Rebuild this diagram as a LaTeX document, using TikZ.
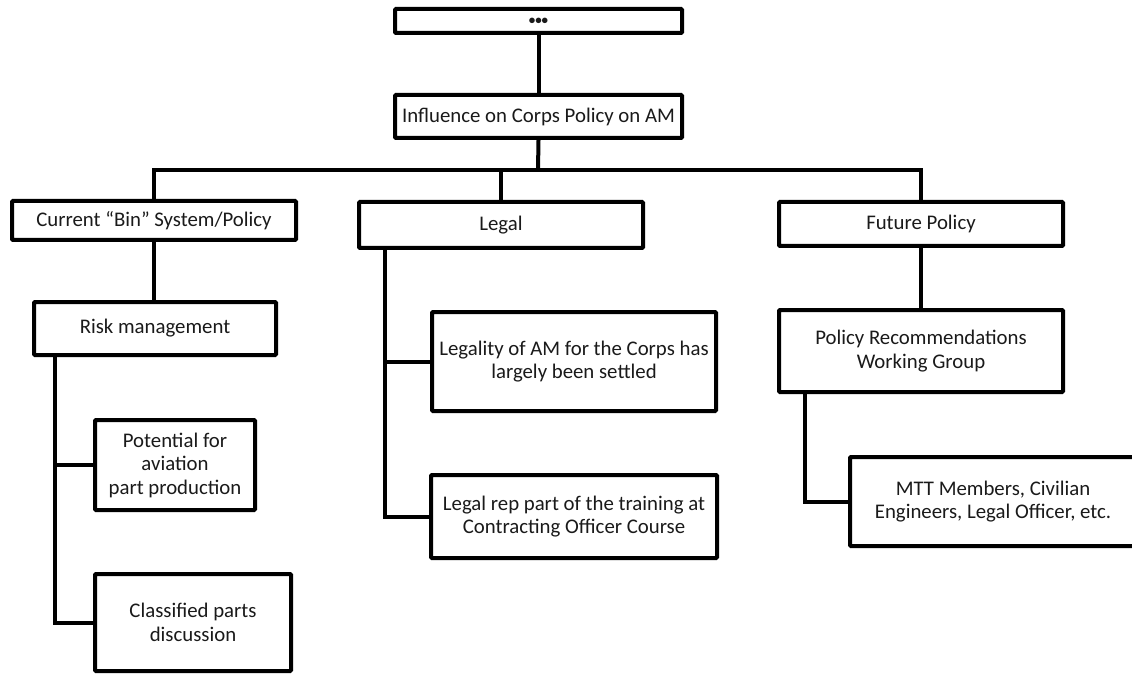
\documentclass[tikz,border=0pt]{standalone}
\usepackage{fontspec}
\setmainfont{Carlito}
\usetikzlibrary{calc}
\definecolor{ink}{HTML}{1A1A1A}
\tikzset{
  bx/.style={draw=black, line width=4pt, rounded corners=1pt, fill=white,
    inner sep=0pt, align=center, text=ink,
    font=\fontsize{20.8}{23.5}\selectfont},
  link/.style={draw=black, line width=4pt, line join=miter}
}
\begin{document}
\begin{tikzpicture}[x=1pt, y=-1pt]
\useasboundingbox (0,0) rectangle (1132,676);

% top levels
\node[bx, minimum width=287pt, minimum height=24pt] (dots) at (538.5,21)
  {\fontsize{13}{14}\selectfont\bfseries •••};
\node[bx, minimum width=287pt, minimum height=43pt] (infl) at (538.5,116.5)
  {Influence on Corps Policy on AM};

% three branches
\node[bx, minimum width=284pt, minimum height=39pt] (cur) at (154,220.5)
  {Current “Bin” System/Policy};
\node[bx, minimum width=284pt, minimum height=46pt] (legal) at (501,225)
  {Legal};
\node[bx, minimum width=284pt, minimum height=44pt] (future) at (921,224)
  {Future Policy};

% current system subtree
\node[bx, minimum width=242pt, minimum height=53pt] (risk) at (155,328.5)
  {Risk management};
\node[bx, minimum width=160pt, minimum height=90pt] (pot) at (175,465)
  {Potential for\\aviation\\part production};
\node[bx, minimum width=196pt, minimum height=97pt] (cls) at (193,622.5)
  {Classified parts\\discussion};

% legal subtree
\node[bx, minimum width=284pt, minimum height=99pt] (lgl1) at (574,361.5)
  {Legality of AM for the Corps has\\largely been settled};
\node[bx, minimum width=286pt, minimum height=83pt] (lgl2) at (574,516.5)
  {Legal rep part of the training at\\Contracting Officer Course};

% future policy subtree
\node[bx, minimum width=284pt, minimum height=82pt] (prwg) at (921,351)
  {Policy Recommendations\\Working Group};
\node[bx, minimum width=286pt, minimum height=89pt] (mtt) at (993,501.5)
  {MTT Members, Civilian\\Engineers, Legal Officer, etc.};

% connectors
\coordinate (bus) at (538,170);
\draw[link] (dots.south) -- (infl.north);
\draw[link] (infl.south) -- (bus);
\draw[link] (cur.north) |- (bus) -| (future.north);
\draw[link] (legal.north) -- (legal.north |- bus);

\draw[link] (cur.south) -- (cur.south |- risk.north);
\coordinate (rt) at ($(risk.south west)+(23,0)$);
\draw[link] (rt) |- (cls.west);
\draw[link] (rt |- pot.west) -- (pot.west);

\coordinate (lt) at ($(legal.south west)+(28,0)$);
\draw[link] (lt) |- (lgl2.west);
\draw[link] (lt |- lgl1.west) -- (lgl1.west);

\draw[link] (future.south) -- (prwg.north);
\coordinate (ft) at ($(prwg.south west)+(28,0)$);
\draw[link] (ft) |- (mtt.west);
\end{tikzpicture}
\end{document}
